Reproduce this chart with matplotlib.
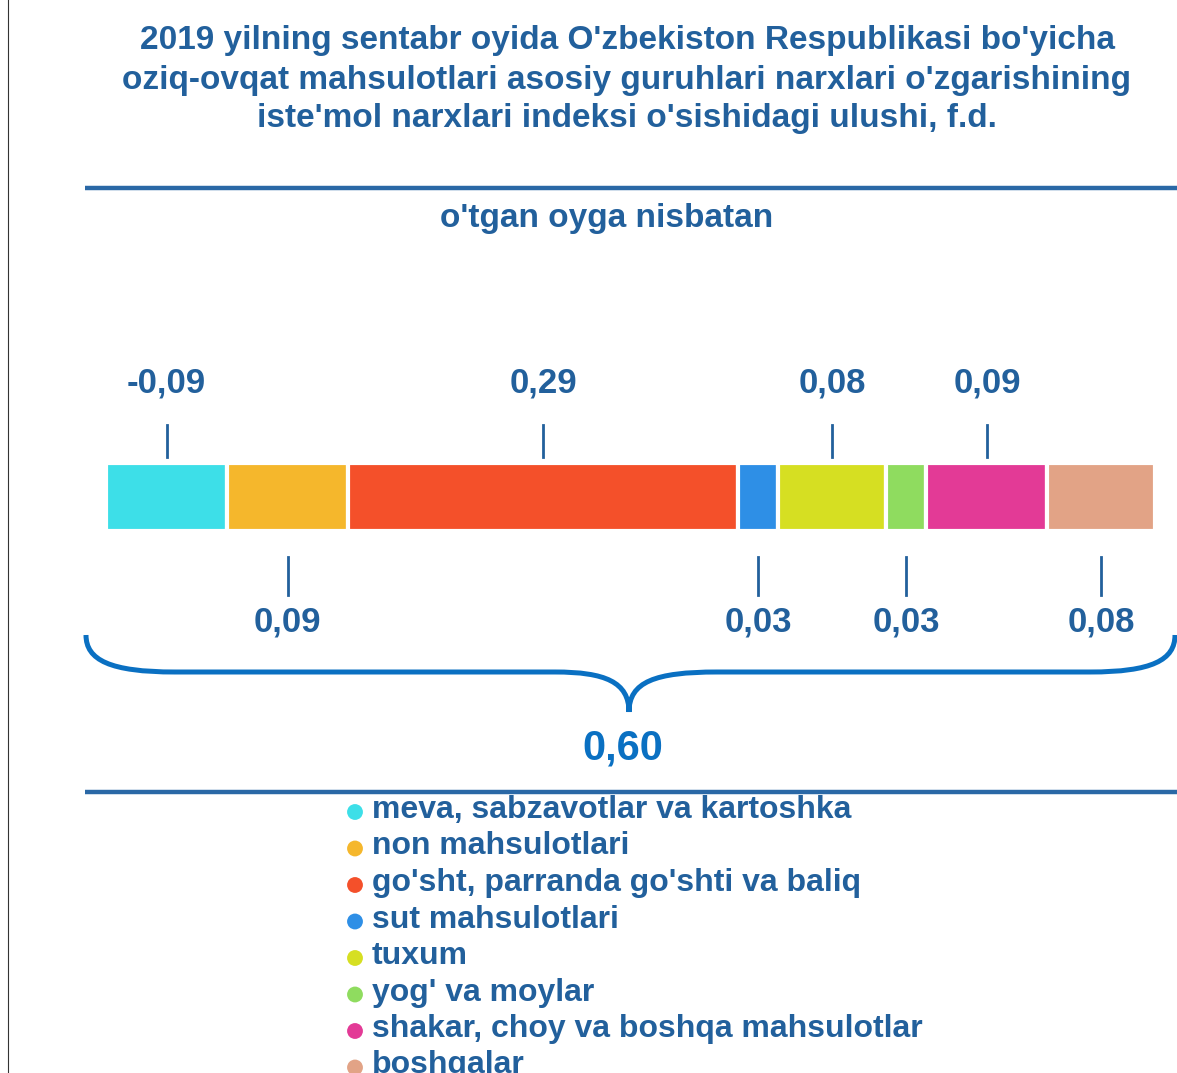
import matplotlib
matplotlib.use("Agg")
import matplotlib.pyplot as plt
from matplotlib.path import Path
from matplotlib.patches import PathPatch
import matplotlib.transforms as mtransforms
import numpy as np

plt.rcParams['font.family'] = ['Liberation Sans', 'DejaVu Sans']

# ---- data ----
categories = ["meva, sabzavotlar va kartoshka", "non mahsulotlari",
              "go'sht, parranda go'shti va baliq", "sut mahsulotlari", "tuxum",
              "yog' va moylar", "shakar, choy va boshqa mahsulotlar", "boshqalar"]
values = [-0.09, 0.09, 0.29, 0.03, 0.08, 0.03, 0.09, 0.08]
value_labels = ["-0,09", "0,09", "0,29", "0,03", "0,08", "0,03", "0,09", "0,08"]
label_above = [True, False, True, False, True, False, True, False]
colors = ["#3ddfe8", "#f5b72c", "#f4502a", "#2e8fe6", "#d6df22", "#8fdc5f", "#e33a96", "#e2a386"]
total_label = "0,60"
title_lines = ["2019 yilning sentabr oyida O'zbekiston Respublikasi bo'yicha",
               "oziq-ovqat mahsulotlari asosiy guruhlari narxlari o'zgarishining",
               "iste'mol narxlari indeksi o'sishidagi ulushi, f.d."]
subtitle = "o'tgan oyga nisbatan"

W, H = 1177, 1073
fig = plt.figure(figsize=(W / 100, H / 100), dpi=100)
fig.patch.set_facecolor("white")

# background axes in pixel coordinates
ax0 = fig.add_axes([0, 0, 1, 1])
ax0.set_xlim(0, W)
ax0.set_ylim(H, 0)
ax0.axis("off")

TXT = "#22609c"
BLUE = "#0a70c2"

# left frame line
ax0.plot([8, 8], [0, H], color="#333333", lw=0.8)

# title
for i, line in enumerate(title_lines):
    ax0.text(627, 41 + i * 39, line, ha="center", va="center", fontsize=24,
             fontweight="bold", color=TXT)

# separator lines
ax0.plot([85, W], [188, 188], color="#2a68a6", lw=3.2, solid_capstyle="butt")
ax0.plot([85, W], [792, 792], color="#2a68a6", lw=3.2, solid_capstyle="butt")

ax0.text(607, 219, subtitle, ha="center", va="center", fontsize=24,
         fontweight="bold", color=TXT)

# bar axes
bx0, bx1, by0, by1 = 106, 1155, 463, 531
ax = fig.add_axes([bx0 / W, 1 - by1 / H, (bx1 - bx0) / W, (by1 - by0) / H])
widths = np.abs(values)
lefts = np.concatenate([[0], np.cumsum(widths)[:-1]])
ax.barh([0.5], widths, left=lefts, height=1.0, color=colors,
        edgecolor="white", linewidth=3.0)
ax.set_xlim(0, widths.sum())
ax.set_ylim(0, 1)
ax.axis("off")

# labels with tick lines: x in bar data, y in pixel coords
trans = mtransforms.blended_transform_factory(ax.transData, ax0.transData)
centers = lefts + widths / 2
for c, lab, up in zip(centers, value_labels, label_above):
    if up:
        ax0.plot([c, c], [425, 457], color=TXT, lw=2.0, transform=trans)
        ax0.text(c, 383, lab, ha="center", va="center", fontsize=25,
                 fontweight="bold", color=TXT, transform=trans)
    else:
        ax0.plot([c, c], [557, 595], color=TXT, lw=2.0, transform=trans)
        ax0.text(c, 622, lab, ha="center", va="center", fontsize=25,
                 fontweight="bold", color=TXT, transform=trans)

# brace
verts = [(86, 635), (86, 660), (110, 672), (175, 672),
         (555, 672),
         (605, 672), (629, 682), (629, 712),
         (629, 682), (655, 672), (717, 672),
         (1090, 672),
         (1152, 672), (1175, 660), (1175, 635)]
codes = [Path.MOVETO, Path.CURVE4, Path.CURVE4, Path.CURVE4,
         Path.LINETO,
         Path.CURVE4, Path.CURVE4, Path.CURVE4,
         Path.CURVE4, Path.CURVE4, Path.CURVE4,
         Path.LINETO,
         Path.CURVE4, Path.CURVE4, Path.CURVE4]
ax0.add_patch(PathPatch(Path(verts, codes), facecolor="none", edgecolor=BLUE,
                        lw=3.6, capstyle="butt"))
ax0.text(623, 748, total_label, ha="center", va="center", fontsize=30,
         fontweight="bold", color=BLUE)

# legend
for i, (cat, col) in enumerate(zip(categories, colors)):
    y = 810 + i * 36.5
    ax0.scatter([355], [y + 2], s=130, color=col, edgecolors="none")
    ax0.text(372, y, cat, ha="left", va="center", fontsize=23,
             fontweight="bold", color=TXT)

fig.savefig("out.png", dpi=100, facecolor="white")
